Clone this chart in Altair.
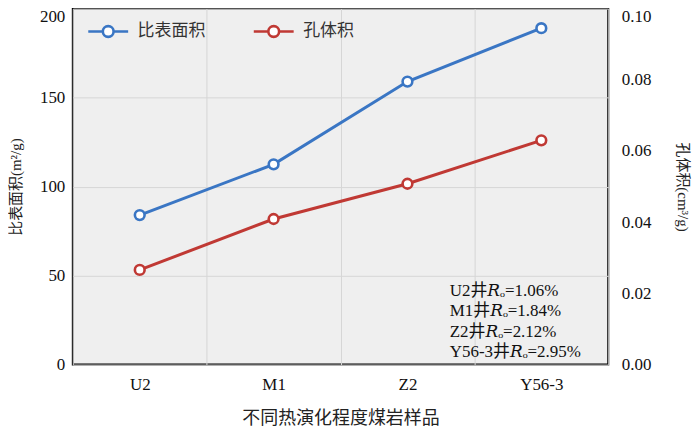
import altair as alt
import pandas as pd

# ---- data ----
samples = ["U2", "M1", "Z2", "Y56-3"]
surface_area = [84, 112.5, 159, 189]           # 比表面积 (m²/g), left axis
pore_volume = [0.0266, 0.0409, 0.0508, 0.0630]  # 孔体积 (cm³/g), right axis
series_names = ["比表面积", "孔体积"]
series_colors = ["#3a76c4", "#c03934"]
y_left_ticks = [0, 50, 100, 150, 200]
y_right_ticks = [0, 0.02, 0.04, 0.06, 0.08, 0.10]
note_lines = ["U2井𝑅ₒ=1.06%", "M1井𝑅ₒ=1.84%", "Z2井𝑅ₒ=2.12%", "Y56-3井𝑅ₒ=2.95%"]

df_sa = pd.DataFrame({"sample": samples, "value": surface_area, "series": series_names[0]})
df_pv = pd.DataFrame({"sample": samples, "value": pore_volume, "series": series_names[1]})

W, H = 537, 357
SERIF = "Liberation Serif, DejaVu Serif, Noto Sans CJK SC"
CJK = "Noto Sans CJK SC, Liberation Serif"

legend_path = ("M-1,0H-0.27M0.27,0H1M0.27,0A0.27,0.27,0,1,1,-0.27,0"
               "A0.27,0.27,0,1,1,0.27,0Z")

color = alt.Color(
    "series:N",
    scale=alt.Scale(domain=series_names, range=series_colors),
    legend=alt.Legend(
        title=None, orient="none", legendX=14, legendY=1, direction="horizontal",
        symbolType=legend_path, symbolSize=1600, symbolStrokeWidth=2.6,
        symbolFillColor="white", labelFont=CJK, labelFontSize=17, labelColor="#333333",
        columnPadding=43, labelOffset=8, padding=0,
    ),
)

x = alt.X(
    "sample:N", sort=samples,
    scale=alt.Scale(type="band", paddingInner=0, paddingOuter=0),
    axis=alt.Axis(
        title="不同热演化程度煤岩样品", labelAngle=0, tickBand="extent", grid=True,
        labelPadding=12, titlePadding=17, titleFont=CJK, titleFontSize=18,
        titleColor="#222222",
    ),
)

point_def = alt.OverlayMarkDef(filled=False, fill="white", size=95, strokeWidth=2.6, opacity=1)

top_left = {"condition": {"test": "datum.value >= 200", "value": "top"}, "value": "middle"}
top_right = {"condition": {"test": "datum.value >= 0.1", "value": "top"}, "value": "middle"}

line_sa = alt.Chart(df_sa).mark_line(strokeWidth=3, point=point_def).encode(
    x=x,
    y=alt.Y(
        "value:Q", scale=alt.Scale(domain=[0, 200], nice=False),
        axis=alt.Axis(title="比表面积(m²/g)", values=y_left_ticks, grid=True,
                      labelPadding=8, titlePadding=16, orient="left",
                      labelBaseline=top_left, titleFontSize=15),
    ),
    color=color,
)

line_pv = alt.Chart(df_pv).mark_line(strokeWidth=3, point=point_def).encode(
    x=x,
    y=alt.Y(
        "value:Q", scale=alt.Scale(domain=[0, 0.1], nice=False),
        axis=alt.Axis(title="孔体积(cm³/g)", values=y_right_ticks, format=".2f", grid=False,
                      labelPadding=13, titlePadding=24, orient="right",
                      labelBaseline=top_right, titleFontSize=15),
    ),
    color=color,
)

note = alt.Chart(alt.Data(values=[{"k": 1}])).mark_text(
    text=note_lines, align="left", baseline="top", lineHeight=20.5,
    font=SERIF, fontSize=17, color="#111111",
).encode(x=alt.value(378), y=alt.value(275))

chart = (
    alt.layer(line_sa, line_pv, note)
    .resolve_scale(y="independent")
    .properties(
        width=W, height=H,
        autosize=alt.AutoSizeParams(type="none"),
        padding={"left": 65, "top": 0, "right": 84, "bottom": 66},
    )
    .configure_view(stroke="black", strokeWidth=2, fill="#efefef")
    .configure_axis(
        labelFont=SERIF, labelFontSize=17, labelColor="#111111",
        titleFont=SERIF, titleFontSize=16, titleFontWeight="normal", titleColor="#222222",
        gridColor="#d6d6d6", gridWidth=1, domain=False, ticks=False,
    )
)

chart.save("out.html", embed_options={"renderer": "svg", "actions": False})
